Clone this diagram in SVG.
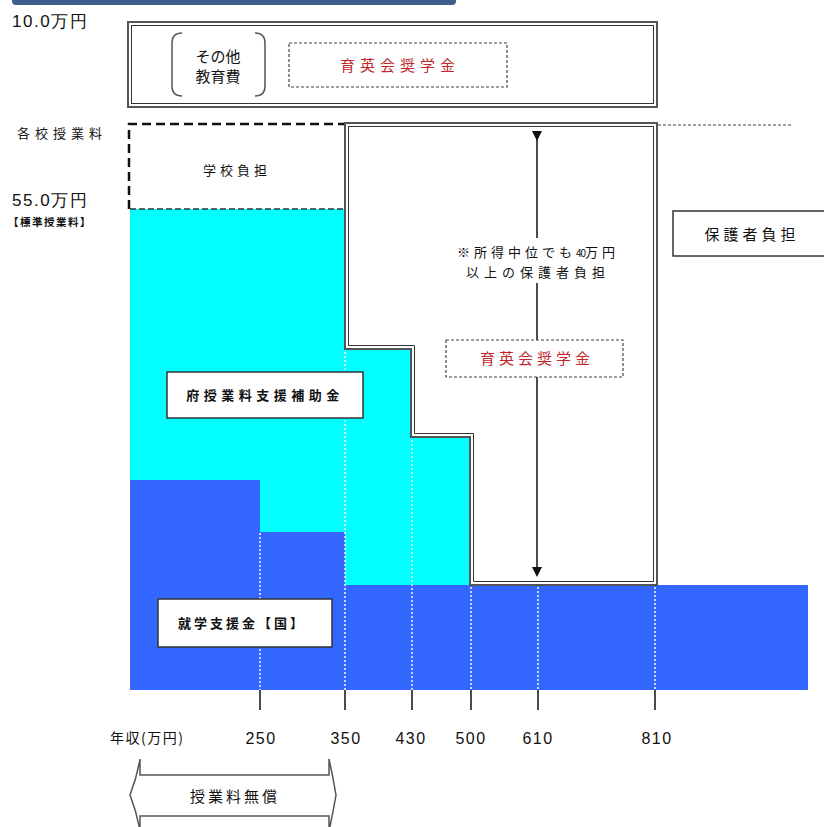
<svg xmlns="http://www.w3.org/2000/svg" width="824" height="827" viewBox="0 0 824 827">
<style>
  text { font-family: "Noto Sans CJK JP", "Noto Sans", sans-serif; fill: #111; }
  .lbl { font-size: 13px; }
  .b { font-weight: bold; }
  .red { fill: #c0282e; font-size: 15px; }
  .num { font-family: "Liberation Sans", Arial, sans-serif; font-size: 16px; letter-spacing: 1.5px; }
  .box { fill: #fff; stroke: #333; stroke-width: 1.5; }
  .dbox { fill: #fff; stroke: #444; stroke-width: 1.2; stroke-dasharray: 3 2; }
  .dotw { stroke: #fff; stroke-width: 1.5; stroke-dasharray: 2 2; fill: none; }
  .tick { stroke: #111; stroke-width: 1.5; }
</style>
<defs>
  <marker id="ah" markerWidth="10" markerHeight="10" refX="5" refY="5" orient="auto" markerUnits="userSpaceOnUse">
    <path d="M0,0 L10,5 L0,10 Z" fill="#111"/>
  </marker>
</defs>
<rect width="824" height="827" fill="#fff"/>

<!-- banner -->
<path id="banner" d="M12,0 H456 V1 Q456,5 452,5 H16 Q12,5 12,1 Z" fill="#3d5f8e"/>

<!-- axis labels -->
<g id="ylabels">
  <text class="num" x="12" y="27" style="font-size:17px">10.0万円</text>
  <text x="17" y="138" style="font-size:13px" letter-spacing="5">各校授業料</text>
  <text class="num" x="12" y="206" style="font-size:17px">55.0万円</text>
  <text x="8" y="226" style="font-size:10.5px;font-weight:bold" letter-spacing="1.5">【標準授業料】</text>
</g>

<!-- top box -->
<g id="top-box">
  <rect x="128" y="22" width="529" height="85" fill="#fff" stroke="#555" stroke-width="2"/>
  <rect x="131.5" y="25.5" width="522" height="78" fill="none" stroke="#333" stroke-width="1"/>
  <path d="M182,33 Q172,33 172,43 V86 Q172,96 182,96" fill="none" stroke="#555" stroke-width="1.5"/>
  <path d="M255,33 Q265,33 265,43 V86 Q265,96 255,96" fill="none" stroke="#555" stroke-width="1.5"/>
  <text x="218" y="62" text-anchor="middle" style="font-size:15px">その他</text>
  <text x="218" y="82" text-anchor="middle" style="font-size:15px">教育費</text>
  <rect class="dbox" x="289" y="43" width="218" height="44"/>
  <text class="red" x="400" y="71" text-anchor="middle" letter-spacing="5">育英会奨学金</text>
</g>

<!-- fills -->
<g id="cyan-area">
  <path d="M130,209 H345 V349 H411 V437 H470 V586 H130 Z" fill="#00ffff"/>
</g>
<g id="blue-area">
  <path d="M130,480 H260 V532 H345 V585 H808 V690 H130 Z" fill="#3366ff"/>
</g>

<!-- school burden dashed -->
<g id="school-burden">
  <path d="M129,209 V124 H345" fill="none" stroke="#111" stroke-width="2.5" stroke-dasharray="9 5"/>
  <path d="M130,209 H345" fill="none" stroke="#333" stroke-width="1.5" stroke-dasharray="6 3"/>
  <text class="lbl" x="237" y="175" text-anchor="middle" letter-spacing="4">学校負担</text>
</g>

<!-- tall guardian box -->
<g id="guardian-box">
  <path d="M345,123 H657 V585 H470 V437 H411 V349 H345 Z" fill="#fff" stroke="#555" stroke-width="2"/>
  <path d="M348.5,126.5 H653.5 V581.5 H473.5 V433.5 H414.5 V345.5 H348.5 Z" fill="none" stroke="#333" stroke-width="1"/>
  <line x1="658" y1="125" x2="792" y2="125" stroke="#444" stroke-width="1" stroke-dasharray="3 2"/>
</g>

<!-- dotted white grid -->
<g id="gridlines">
  <line class="dotw" x1="260" y1="533" x2="260" y2="690"/>
  <line class="dotw" x1="345" y1="352" x2="345" y2="690"/>
  <line class="dotw" x1="412" y1="440" x2="412" y2="690"/>
  <line class="dotw" x1="471" y1="587" x2="471" y2="690"/>
  <line class="dotw" x1="538" y1="587" x2="538" y2="690"/>
  <line class="dotw" x1="655" y1="587" x2="655" y2="690"/>
</g>

<!-- connectors -->
<g id="connectors">
  <line x1="537" y1="136" x2="537" y2="238" stroke="#111" stroke-width="1.5" marker-start="url(#ah)"/>
  <line x1="537" y1="283" x2="537" y2="340" stroke="#111" stroke-width="1.5"/>
  <line x1="537" y1="377" x2="537" y2="572" stroke="#111" stroke-width="1.5" marker-end="url(#ah)"/>
</g>

<g id="note">
  <text x="538" y="257" text-anchor="middle" style="font-size:13px" letter-spacing="4">※所得中位でも<tspan style="font-size:10px" letter-spacing="-1">40</tspan><tspan letter-spacing="4">万円</tspan></text>
  <text x="538" y="277" text-anchor="middle" style="font-size:13px" letter-spacing="5">以上の保護者負担</text>
</g>

<g id="scholarship-mid">
  <rect class="dbox" x="446" y="340" width="177" height="37"/>
  <text class="red" x="537" y="364" text-anchor="middle" letter-spacing="4">育英会奨学金</text>
</g>

<g id="guardian-label">
  <rect class="box" x="673" y="211" width="160" height="45"/>
  <text x="752" y="240" text-anchor="middle" style="font-size:15px" letter-spacing="4">保護者負担</text>
</g>

<g id="pref-subsidy">
  <rect class="box" x="167" y="372" width="196" height="46"/>
  <text class="lbl b" x="265" y="400" text-anchor="middle" letter-spacing="4.5">府授業料支援補助金</text>
</g>

<g id="national-subsidy">
  <rect class="box" x="158" y="599" width="174" height="48"/>
  <text class="lbl b" x="242" y="628" text-anchor="middle" letter-spacing="3">就学支援金【国】</text>
</g>

<!-- ticks and axis labels -->
<g id="xaxis">
  <line class="tick" x1="260" y1="690" x2="260" y2="710"/>
  <line class="tick" x1="345" y1="690" x2="345" y2="710"/>
  <line class="tick" x1="412" y1="690" x2="412" y2="710"/>
  <line class="tick" x1="471" y1="690" x2="471" y2="710"/>
  <line class="tick" x1="538" y1="690" x2="538" y2="710"/>
  <line class="tick" x1="655" y1="690" x2="655" y2="710"/>
  <text x="110" y="743" style="font-size:14px" letter-spacing="1.5">年収(万円)</text>
  <text class="num" x="261" y="744" text-anchor="middle">250</text>
  <text class="num" x="346" y="744" text-anchor="middle">350</text>
  <text class="num" x="411" y="744" text-anchor="middle">430</text>
  <text class="num" x="471" y="744" text-anchor="middle">500</text>
  <text class="num" x="538" y="744" text-anchor="middle">610</text>
  <text class="num" x="657" y="744" text-anchor="middle">810</text>
</g>

<g id="free-tuition">
  <path d="M140,759 V775 H329 V759 Q333,777 336,795 Q333,813 329,831 V816 H140 V831 Q137,813 130,795 Q137,777 140,759 Z" fill="#fff" stroke="#555" stroke-width="1.5"/>
  <text x="235" y="802" text-anchor="middle" style="font-size:15px" letter-spacing="3">授業料無償</text>
</g>
</svg>
